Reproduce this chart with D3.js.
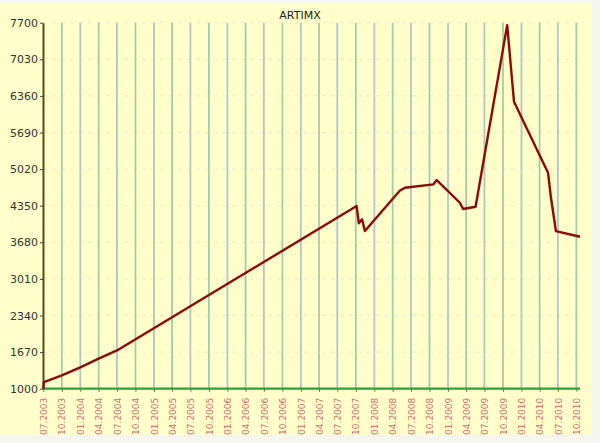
<!DOCTYPE html>
<html><head><meta charset="utf-8">
<script src="https://cdn.jsdelivr.net/npm/d3@7"></script>
<style>html,body{margin:0;padding:0;background:#f6f6f0;}svg{display:block;}</style>
</head><body>
<svg id="c" width="600" height="443"></svg>
<script>
const title = "ARTIMX";
const dates = ["2003-07-01","2003-07-04","2003-10-01","2004-01-01","2004-04-01","2004-07-01",
  "2007-10-05","2007-10-16","2007-11-01","2007-11-15","2008-05-06","2008-06-01","2008-10-20",
  "2008-11-06","2009-03-01","2009-03-17","2009-05-18","2009-10-22","2009-11-25","2010-05-13",
  "2010-05-27","2010-06-21","2010-10-19"];
const values = [1000,1120,1245,1390,1550,1700,
  4343,4027,4100,3886,4623,4678,4740,
  4819,4404,4289,4331,7656,6252,4953,
  4514,3886,3782];
const yTicks = [1000,1670,2340,3010,3680,4350,5020,5690,6360,7030,7700];
const xTickLabels = ["07.2003","10.2003","01.2004","04.2004","07.2004","10.2004","01.2005","04.2005",
  "07.2005","10.2005","01.2006","04.2006","07.2006","10.2006","01.2007","04.2007","07.2007","10.2007",
  "01.2008","04.2008","07.2008","10.2008","01.2009","04.2009","07.2009","10.2009","01.2010","04.2010",
  "07.2010","10.2010"];

const parse = d3.timeParse("%Y-%m-%d");
const parseTick = d3.timeParse("%m.%Y");
const data = dates.map((d,i)=>({date:parse(d), value:values[i]}));
const tickDates = xTickLabels.map(s=>parseTick(s));

const svg = d3.select("#c");
svg.append("rect").attr("x",0).attr("y",3).attr("width",592).attr("height",432).attr("fill","#ffffcc");

const x = d3.scaleTime().domain([tickDates[0], tickDates[tickDates.length-1]]).range([43.3, 576.4]);
const y = d3.scaleLinear().domain([1000,7700]).range([388.7, 22.7]);

svg.append("text").attr("x",300).attr("y",19).attr("text-anchor","middle")
  .attr("font-family","DejaVu Sans, Verdana, sans-serif").attr("font-size",11).attr("fill","#222").text(title);

// horizontal dashed grid
svg.append("g").selectAll("line").data(yTicks.slice(1)).join("line")
  .attr("x1",43).attr("x2",580).attr("y1",d=>y(d)).attr("y2",d=>y(d))
  .attr("stroke","#ebe7c8").attr("stroke-width",1).attr("stroke-dasharray","4,5");

// vertical grid lines
svg.append("g").selectAll("line").data(tickDates.slice(1)).join("line")
  .attr("x1",d=>x(d)).attr("x2",d=>x(d)).attr("y1",y(7700)).attr("y2",y(1000))
  .attr("stroke",(d,i)=> i%2===0 ? "#a6cba6" : "#b6c4c6").attr("stroke-width",1.8);

// x axis
const xAxis = d3.axisBottom(x).tickValues(tickDates).tickFormat(d3.timeFormat("%m.%Y")).tickSize(3).tickSizeOuter(0);
const gx = svg.append("g").attr("transform",`translate(0,${y(1000)})`).call(xAxis);
gx.select(".domain").remove();
gx.append("line").attr("x1",43).attr("x2",580).attr("y1",0).attr("y2",0).attr("stroke","#3a9a3a").attr("stroke-width",2.2);
gx.selectAll(".tick line").attr("stroke","#3a7a3a");
gx.selectAll(".tick text").attr("fill","#d06a6a").attr("font-size",9)
  .attr("font-family","DejaVu Sans, Verdana, sans-serif")
  .attr("transform","rotate(-90)").attr("text-anchor","end").attr("dy","0.35em").attr("x",-9).attr("y",0);

// y axis
const yAxis = d3.axisLeft(y).tickValues(yTicks).tickFormat(d3.format("d")).tickSize(3).tickSizeOuter(0);
const gy = svg.append("g").attr("transform","translate(43,0)").call(yAxis);
gy.select(".domain").attr("stroke","#5a4a1c").attr("stroke-width",2);
gy.selectAll(".tick line").attr("stroke","#444");
gy.selectAll(".tick text").attr("fill","#333").attr("font-size",11)
  .attr("font-family","DejaVu Sans, Verdana, sans-serif").attr("x",-5);

// line
const line = d3.line().x(d=>x(d.date)).y(d=>y(d.value));
svg.append("path").datum(data).attr("d",line).attr("fill","none")
  .attr("stroke","#8b0a0a").attr("stroke-width",2.4).attr("stroke-linejoin","round");
</script>
</body></html>
